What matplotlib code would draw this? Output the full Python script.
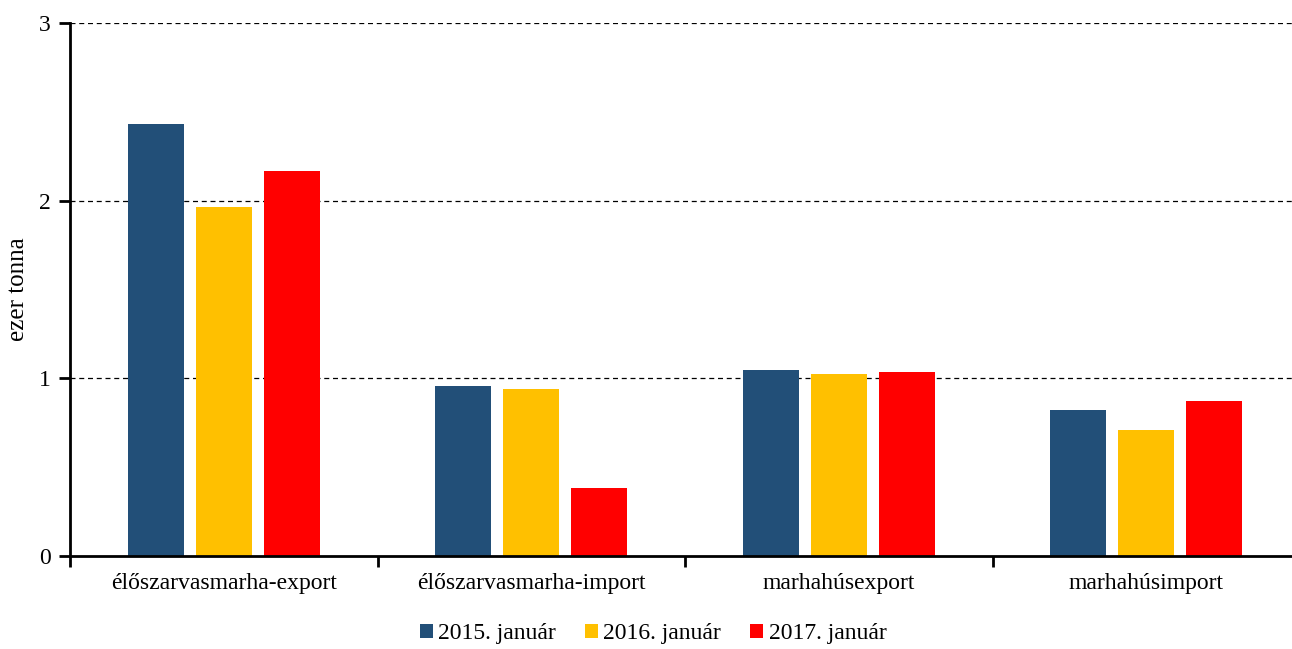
import matplotlib
matplotlib.use("Agg")
import matplotlib.pyplot as plt
import numpy as np

plt.rcParams['font.family'] = ['Liberation Serif', 'DejaVu Serif']

categories = ["élőszarvasmarha-export", "élőszarvasmarha-import", "marhahúsexport", "marhahúsimport"]
series_names = ["2015. január", "2016. január", "2017. január"]
v2015 = [2.43, 0.957, 1.047, 0.822]
v2016 = [1.965, 0.940, 1.024, 0.709]
v2017 = [2.167, 0.383, 1.036, 0.872]
colors = ["#224F78", "#FFC000", "#FF0000"]
yticks = [0, 1, 2, 3]

W, H = 1292, 649
fig = plt.figure(figsize=(W/100, H/100), dpi=100)
ax = fig.add_axes([70/W, (H-556)/H, 1230/W, 533/H])

x = np.arange(len(categories))
step = 0.221
width = 0.182
for i, (vals, name, c) in enumerate(zip([v2015, v2016, v2017], series_names, colors)):
    ax.bar(x + (i-1)*step, vals, width=width, color=c, label=name, zorder=3)

fs = 17
ax.set_xlim(-0.5, 3.5)
ax.set_ylim(0, 3)
ax.set_yticks(yticks)
ax.set_yticklabels([str(t) for t in yticks], fontsize=fs)
ax.set_xticks(x)
ax.set_xticklabels(categories, fontsize=fs)
ax.tick_params(axis='x', length=0, pad=12)
ax.set_xticks(np.arange(-0.5, 4.0, 1.0), minor=True)
ax.tick_params(axis='x', which='minor', length=8, width=2, direction='out')
ax.tick_params(axis='y', length=8, width=2, direction='out', pad=6)
for t in [1, 2, 3]:
    ax.axhline(t, color='black', linestyle=(0, (4, 3)), linewidth=0.9, zorder=1)
for s in ['top', 'right']:
    ax.spines[s].set_visible(False)
ax.spines['left'].set_linewidth(2)
ax.spines['bottom'].set_linewidth(2)
ax.spines['bottom'].set_zorder(4)
ax.set_ylabel("ezer tonna", fontsize=18, labelpad=7)

handles, labels = ax.get_legend_handles_labels()
fig.legend(handles, labels, loc='center', bbox_to_anchor=(653/W, (H-634)/H), ncol=3,
           frameon=False, fontsize=fs, handlelength=0.55, handleheight=0.55,
           handletextpad=0.22, columnspacing=1.25)

fig.savefig("out.png", dpi=100)
